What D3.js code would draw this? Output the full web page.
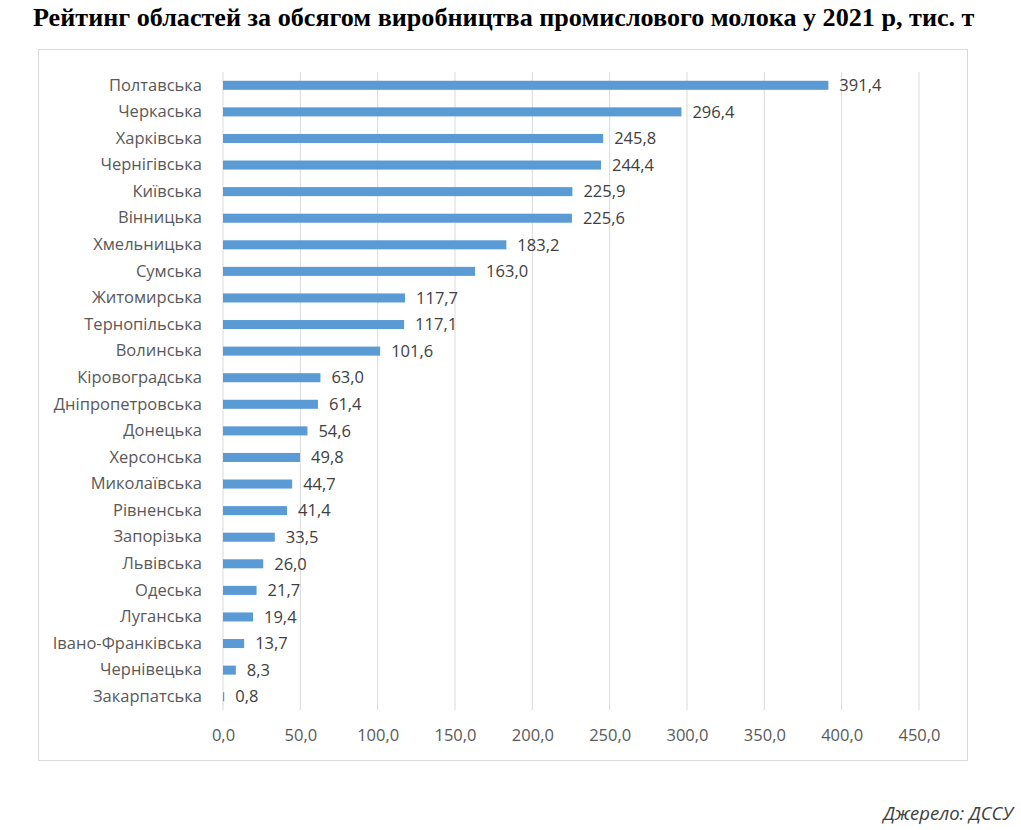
<!DOCTYPE html>
<html>
<head>
<meta charset="utf-8">
<script src="https://cdn.jsdelivr.net/npm/d3@7"></script>
<style>
  body { margin: 0; background: #fff; }
</style>
</head>
<body>
<svg id="chart" width="1021" height="830"></svg>
<script>
const regions = ["Полтавська", "Черкаська", "Харківська", "Чернігівська", "Київська", "Вінницька",
  "Хмельницька", "Сумська", "Житомирська", "Тернопільська", "Волинська", "Кіровоградська",
  "Дніпропетровська", "Донецька", "Херсонська", "Миколаївська", "Рівненська", "Запорізька",
  "Львівська", "Одеська", "Луганська", "Івано-Франківська", "Чернівецька", "Закарпатська"];
const milk = [391.4, 296.4, 245.8, 244.4, 225.9, 225.6, 183.2, 163.0, 117.7, 117.1, 101.6, 63.0,
  61.4, 54.6, 49.8, 44.7, 41.4, 33.5, 26.0, 21.7, 19.4, 13.7, 8.3, 0.8];
const xTicks = [0, 50, 100, 150, 200, 250, 300, 350, 400, 450];

const titleText = "Рейтинг областей за обсягом виробництва промислового молока у 2021 р, тис. т";
const sourceText = "Джерело: ДССУ";

const data = regions.map((r, i) => ({ region: r, value: milk[i] }));

const svg = d3.select("#chart");
const fmt = v => v.toFixed(1).replace(".", ",");

// title, stretched to the width it has in the picture
const title = svg.append("text")
  .attr("x", 33)
  .attr("y", 26)
  .attr("font-family", "Liberation Serif, Times New Roman, serif")
  .attr("font-weight", "bold")
  .attr("font-size", 22)
  .attr("fill", "#000")
  .text(titleText);
const tw = title.node().getComputedTextLength();
title.attr("font-size", 22 * 942 / tw);

// chart frame
svg.append("rect")
  .attr("x", 38.5)
  .attr("y", 49.5)
  .attr("width", 929)
  .attr("height", 711)
  .attr("fill", "#fff")
  .attr("stroke", "#d9d9d9");

const margin = { left: 223, top: 72 };
const innerWidth = 696;
const innerHeight = 638;

const x = d3.scaleLinear()
  .domain([0, 450])
  .range([0, innerWidth]);

const y = d3.scaleBand()
  .domain(regions)
  .range([0, innerHeight])
  .paddingInner(0.66)
  .paddingOuter(0.33);

const chart = svg.append("g")
  .attr("transform", `translate(${margin.left}, ${margin.top})`);

// vertical gridlines
chart.append("g")
  .selectAll("line")
  .data(xTicks)
  .enter()
  .append("line")
  .attr("x1", d => x(d))
  .attr("x2", d => x(d))
  .attr("y1", 0)
  .attr("y2", innerHeight)
  .attr("stroke", "#d9d9d9")
  .attr("stroke-width", 1);

// x axis labels
const xAxis = chart.append("g")
  .attr("transform", `translate(0, ${innerHeight + 16})`)
  .call(d3.axisBottom(x).tickValues(xTicks).tickFormat(fmt).tickSize(0));
xAxis.select(".domain").remove();
xAxis.selectAll("text")
  .attr("font-family", "Open Sans, sans-serif")
  .attr("font-size", 16.5)
  .attr("fill", "#595959");

// y axis labels
const yAxis = chart.append("g")
  .attr("transform", "translate(-18, 0)")
  .call(d3.axisLeft(y).tickSize(0));
yAxis.select(".domain").remove();
yAxis.selectAll("text")
  .attr("font-family", "Open Sans, sans-serif")
  .attr("font-size", 16.5)
  .attr("fill", "#595959");

// bars
chart.selectAll(".bar")
  .data(data)
  .enter()
  .append("rect")
  .attr("class", "bar")
  .attr("x", x(0))
  .attr("y", d => y(d.region))
  .attr("width", d => x(d.value) - x(0))
  .attr("height", y.bandwidth())
  .attr("fill", "#5b9bd5");

// value labels
chart.selectAll(".val")
  .data(data)
  .enter()
  .append("text")
  .attr("class", "val")
  .attr("x", d => x(d.value) + 11)
  .attr("y", d => y(d.region) + y.bandwidth() / 2)
  .attr("dy", "0.35em")
  .attr("font-family", "Open Sans, sans-serif")
  .attr("font-size", 16.5)
  .attr("fill", "#404040")
  .text(d => fmt(d.value));

// source note
svg.append("text")
  .attr("x", 1013)
  .attr("y", 820)
  .attr("text-anchor", "end")
  .attr("font-family", "Open Sans, sans-serif")
  .attr("font-style", "italic")
  .attr("font-size", 18.5)
  .attr("fill", "#404040")
  .text(sourceText);
</script>
</body>
</html>
